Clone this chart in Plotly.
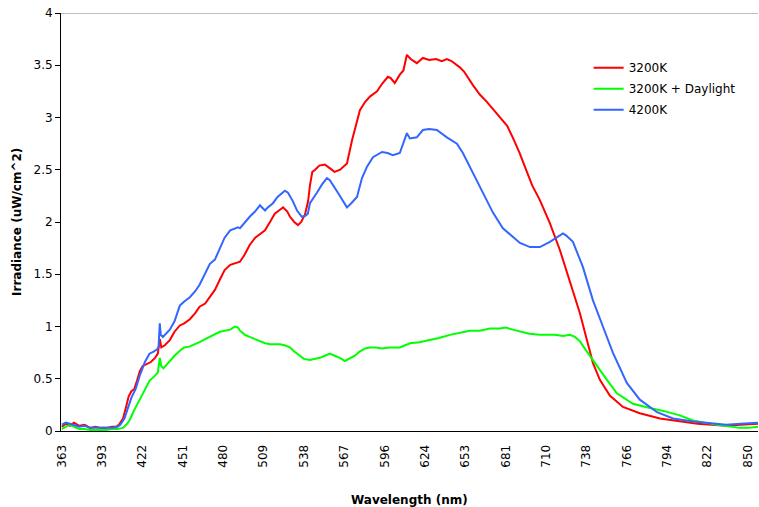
import numpy as np
import plotly.graph_objects as go

# Tick labels of the category-style wavelength axis (nm)
tick_labels = [363, 393, 422, 451, 480, 509, 538, 567, 596, 624, 653, 681, 710, 738, 766, 794, 822, 850]

# 3200K
red_nm = [363, 366, 369, 372, 376, 380, 384, 388, 392, 396, 400, 403, 405, 408, 410, 412, 414, 416, 418, 420,
          422, 425, 428, 431, 433, 434.4, 435.5, 438, 441.6, 445, 448.8, 452, 456, 460, 463, 467, 470, 474, 477.6,
          481, 485, 488, 492, 495, 499, 503, 506, 510, 513.6, 517, 521, 523, 526, 528, 531, 533.7, 536, 538.7,
          541, 542.3, 544, 546, 549, 553, 556, 560, 564, 568.9, 572.5, 576, 578.2, 582, 585.4, 590.5, 594,
          598.2, 600, 603, 606.5, 609, 611.4, 614, 618.3, 622.5, 627, 632, 636, 639.7, 643, 649, 652, 658.2,
          663, 667.9, 672, 677, 682, 686, 691, 695, 700, 705.5, 712.6, 719.6, 726.5, 733.4, 738.3, 742.5,
          747.3, 754.2, 763.3, 775, 789, 803, 815, 825, 835, 845, 857]
red_val = [0.04, 0.07, 0.05, 0.08, 0.05, 0.06, 0.03, 0.04, 0.03, 0.03, 0.04, 0.04, 0.06, 0.12, 0.22, 0.33, 0.38,
           0.40, 0.48, 0.57, 0.62, 0.64, 0.66, 0.70, 0.74, 0.88, 0.80, 0.82, 0.87, 0.95, 1.01, 1.03, 1.07, 1.13,
           1.19, 1.22, 1.28, 1.35, 1.45, 1.54, 1.59, 1.60, 1.62, 1.68, 1.78, 1.85, 1.88, 1.92, 2.00, 2.08, 2.12,
           2.14, 2.10, 2.05, 2.00, 1.97, 2.00, 2.07, 2.20, 2.35, 2.48, 2.50, 2.54, 2.55, 2.52, 2.48, 2.50, 2.56,
           2.78, 2.95, 3.07, 3.15, 3.20, 3.25, 3.32, 3.39, 3.38, 3.33, 3.41, 3.45, 3.60, 3.56, 3.52, 3.57, 3.55,
           3.56, 3.54, 3.56, 3.54, 3.48, 3.44, 3.31, 3.22, 3.15, 3.08, 3.00, 2.92, 2.81, 2.66, 2.52, 2.35, 2.21,
           1.99, 1.73, 1.44, 1.13, 0.87, 0.65, 0.49, 0.34, 0.23, 0.17, 0.12, 0.09, 0.07, 0.06, 0.05, 0.06, 0.07]

# 3200K + Daylight
green_nm = [363, 366, 369, 372, 376, 380, 384, 388, 392, 396, 400, 404, 408, 411, 413, 416, 420, 424, 427, 431,
            433, 434.4, 435.5, 437, 441.6, 445, 449, 452, 456, 460, 463, 467, 470, 474, 477.6, 481, 485, 488.4,
            490.6, 492, 495.6, 499, 502.8, 506, 510, 514, 520.8, 524, 527.9, 531, 535.1, 538, 542.3, 546, 549.4,
            553, 556.6, 560, 563.8, 567.4, 570, 574.6, 578, 582, 585.4, 590, 594, 599.6, 606.5, 613.5, 620,
            627.5, 634, 641.9, 650, 656.1, 663, 670, 677, 681, 686, 691.2, 698, 705.5, 712, 716.1, 721.7, 726.5,
            730, 733.4, 738.3, 745.2, 752.2, 759.1, 766, 770.2, 782, 792, 802.8, 811.8, 820, 828.5, 844.4, 850, 857]
green_val = [0.02, 0.04, 0.06, 0.04, 0.02, 0.02, 0.01, 0.01, 0.01, 0.01, 0.02, 0.02, 0.03, 0.07, 0.11, 0.20,
             0.30, 0.40, 0.48, 0.53, 0.56, 0.70, 0.62, 0.60, 0.67, 0.72, 0.77, 0.80, 0.81, 0.83, 0.85, 0.88, 0.90,
             0.92, 0.95, 0.96, 0.97, 1.00, 0.99, 0.96, 0.92, 0.90, 0.88, 0.86, 0.84, 0.83, 0.83, 0.82, 0.80, 0.76,
             0.72, 0.69, 0.68, 0.69, 0.70, 0.72, 0.74, 0.72, 0.70, 0.67, 0.69, 0.72, 0.76, 0.79, 0.80, 0.80, 0.79,
             0.80, 0.80, 0.84, 0.85, 0.87, 0.89, 0.92, 0.94, 0.96, 0.96, 0.98, 0.98, 0.99, 0.97, 0.95, 0.93, 0.92,
             0.92, 0.92, 0.91, 0.92, 0.90, 0.86, 0.76, 0.62, 0.49, 0.36, 0.30, 0.26, 0.22, 0.19, 0.15, 0.10, 0.08,
             0.06, 0.03, 0.03, 0.04]

# 4200K
blue_nm = [363, 366, 369, 372, 376, 380, 384, 388, 392, 396, 400, 404, 406, 409, 412, 414, 417, 420, 423.7, 427,
           430, 432.3, 433.5, 434.4, 435.1, 436.6, 441.6, 445, 448.8, 452, 456, 460, 463, 466.8, 470.4, 474,
           477.6, 481, 485, 487, 490.6, 492, 495.6, 499, 502.8, 506.4, 510, 512, 515.7, 519, 524.3, 526.5, 530,
           533, 536.5, 539, 540.8, 542.3, 547.3, 551, 554.5, 556.6, 562.4, 568.9, 572, 576.1, 579.7, 583.3,
           587.6, 594.1, 598, 601.7, 606.5, 608.6, 611.4, 613.5, 618.3, 622.5, 627, 632.5, 639.7, 646.9, 651.2,
           658.2, 665.1, 672.1, 679, 686, 691.2, 698.4, 705.5, 712.6, 718, 721.7, 724, 728.6, 735.5, 742.5,
           749.4, 756.3, 766, 775, 787, 798, 812, 825, 835, 845, 857]
blue_val = [0.06, 0.08, 0.07, 0.06, 0.04, 0.05, 0.03, 0.03, 0.03, 0.03, 0.03, 0.04, 0.06, 0.12, 0.25, 0.32, 0.40,
            0.53, 0.66, 0.74, 0.76, 0.78, 0.80, 1.03, 0.92, 0.90, 0.97, 1.05, 1.20, 1.24, 1.28, 1.34, 1.40, 1.50,
            1.60, 1.64, 1.74, 1.85, 1.92, 1.93, 1.95, 1.94, 2.00, 2.05, 2.10, 2.16, 2.11, 2.14, 2.18, 2.24, 2.30,
            2.28, 2.20, 2.11, 2.05, 2.06, 2.08, 2.18, 2.28, 2.36, 2.42, 2.40, 2.28, 2.14, 2.18, 2.24, 2.42, 2.53,
            2.62, 2.67, 2.66, 2.64, 2.66, 2.75, 2.85, 2.80, 2.81, 2.88, 2.89, 2.88, 2.81, 2.75, 2.66, 2.47, 2.28,
            2.09, 1.94, 1.86, 1.80, 1.76, 1.76, 1.81, 1.86, 1.89, 1.87, 1.81, 1.57, 1.25, 1.00, 0.75, 0.46, 0.30,
            0.18, 0.12, 0.09, 0.07, 0.06, 0.07, 0.08]

series_names = ["3200K", "3200K + Daylight", "4200K"]
series_colors = ["#FF0000", "#00FF00", "#3366FF"]

tick_pos = np.arange(len(tick_labels), dtype=float)


def to_pos(nm):
    nm = np.asarray(nm, dtype=float)
    pos = np.interp(nm, tick_labels, tick_pos)
    slope_hi = 1.0 / (tick_labels[-1] - tick_labels[-2])
    pos = np.where(nm > tick_labels[-1], tick_pos[-1] + (nm - tick_labels[-1]) * slope_hi, pos)
    return pos


FONT = "DejaVu Sans"
fig = go.Figure()
for name, color, xs, ys in zip(series_names, series_colors,
                               [red_nm, green_nm, blue_nm], [red_val, green_val, blue_val]):
    fig.add_trace(go.Scatter(x=to_pos(xs), y=ys, mode="lines", name=name, legendgroup=name,
                             line=dict(color=color, width=2)))

fig.update_layout(
    width=759, height=507,
    margin=dict(l=61, r=1, t=13, b=76),
    paper_bgcolor="white", plot_bgcolor="white",
    font=dict(family=FONT, size=12, color="black"),
    showlegend=True,
    legend=dict(x=0.757, y=0.904, xanchor="left", yanchor="top", bgcolor="rgba(0,0,0,0)",
                font=dict(size=12, family=FONT), tracegroupgap=2),
    xaxis=dict(range=[-0.02, 17.25], tickvals=list(tick_pos), ticktext=[str(t) for t in tick_labels],
               tickangle=-90, ticks="", showgrid=False, zeroline=False, showline=True, automargin=False,
               linecolor="black", linewidth=1, ticklabelstandoff=8, tickfont=dict(size=12)),
    yaxis=dict(range=[0, 4], tickvals=[0, 0.5, 1, 1.5, 2, 2.5, 3, 3.5, 4],
               ticktext=["0", "0.5", "1", "1.5", "2", "2.5", "3", "3.5", "4"], automargin=False,
               ticks="outside", ticklen=5, tickcolor="black", showgrid=False, zeroline=False,
               showline=True, linecolor="black", linewidth=1, tickfont=dict(size=12)),
    shapes=[dict(type="line", xref="paper", yref="y", x0=0, x1=1, y0=4, y1=4,
                 line=dict(color="#808080", width=1))],
    annotations=[
        dict(text="<b>Wavelength (nm)</b>", xref="paper", yref="paper", x=0.5, y=0,
             xanchor="center", yanchor="middle",
             yshift=-69, showarrow=False, font=dict(size=12, family=FONT)),
        dict(text="<b>Irradiance (uW/cm^2)</b>", xref="paper", yref="paper", x=0, y=0.5,
             xanchor="center", yanchor="middle",
             xshift=-44, textangle=-90, showarrow=False, font=dict(size=12, family=FONT)),
    ],
)

fig.write_html("out.html", config={"displayModeBar": False},
               post_script="document.body.style.margin='0';")
